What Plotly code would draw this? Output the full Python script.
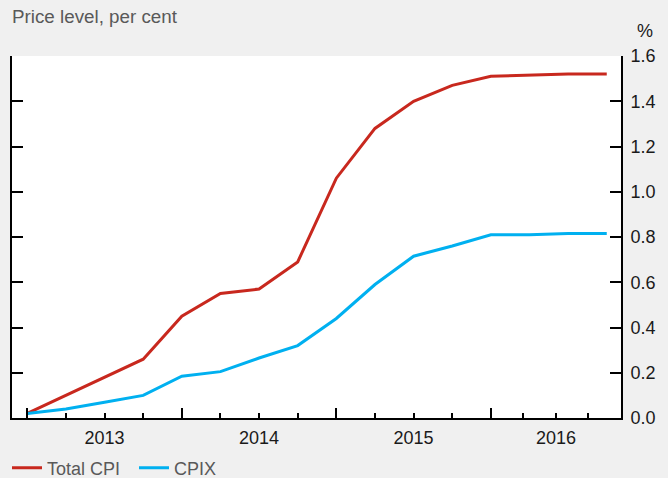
import plotly.graph_objects as go

# Quarterly observations, 2013 Q1 .. 2016 Q4 (index 0..15)
quarter_index = list(range(16))
total_cpi = [0.02, 0.10, 0.18, 0.26, 0.45, 0.55, 0.57, 0.69,
             1.06, 1.28, 1.40, 1.47, 1.51, 1.515, 1.52, 1.52]
cpix = [0.02, 0.04, 0.07, 0.10, 0.185, 0.205, 0.265, 0.32,
        0.44, 0.59, 0.715, 0.76, 0.81, 0.81, 0.815, 0.815]

year_labels = ["2013", "2014", "2015", "2016"]
year_label_pos = [2, 6, 10, 13.685]
year_ticks = [0, 4, 8, 12]
quarter_ticks = [1, 2, 3, 5, 6, 7, 9, 10, 11, 12.842, 13.685, 14.527]
y_ticks = [0.0, 0.2, 0.4, 0.6, 0.8, 1.0, 1.2, 1.4, 1.6]

x_range = [-0.396, 15.369]
y_range = [0, 1.6]

RED = "#c8281e"
BLUE = "#00b0f0"
FONT = "Liberation Sans, Arial, sans-serif"
FS = 18

fig = go.Figure()
fig.add_trace(go.Scatter(x=quarter_index, y=total_cpi, mode="lines", name="Total CPI",
                         line=dict(color=RED, width=3)))
fig.add_trace(go.Scatter(x=quarter_index, y=cpix, mode="lines", name="CPIX",
                         line=dict(color=BLUE, width=3)))
# helper trace so the overlay axes are drawn
fig.add_trace(go.Scatter(x=[None], y=[None], xaxis="x2", yaxis="y2",
                         showlegend=False, hoverinfo="skip"))

axis_common = dict(showgrid=False, zeroline=False, showline=True,
                   linecolor="black", linewidth=2, ticks="inside",
                   tickcolor="black", tickwidth=2, automargin=False)

fig.update_layout(
    width=668, height=478,
    paper_bgcolor="#f0f0f0", plot_bgcolor="white",
    margin=dict(l=12, r=47, t=56, b=60, pad=0, autoexpand=False),
    font=dict(family=FONT, size=FS, color="#1a1a1a"),
    xaxis=dict(range=x_range, tickvals=year_ticks, ticklen=10,
               showticklabels=False,
               minor=dict(tickvals=quarter_ticks, ticks="inside", ticklen=5,
                          tickwidth=1.5, tickcolor="black", showgrid=False),
               **axis_common),
    xaxis2=dict(range=x_range, overlaying="x", side="bottom", anchor="y",
                tickvals=year_label_pos, ticktext=year_labels, ticks="",
                showline=False, showgrid=False, zeroline=False, automargin=False,
                ticklabelstandoff=7,
                tickfont=dict(size=FS, color="#1a1a1a")),
    yaxis=dict(range=y_range, tickvals=y_ticks, ticklen=11,
               showticklabels=False, **axis_common),
    yaxis2=dict(range=y_range, overlaying="y", side="right", anchor="x",
                tickvals=y_ticks, tickformat=".1f", ticklen=11,
                ticklabelstandoff=4,
                tickfont=dict(size=FS, color="#1a1a1a"), **axis_common),
    legend=dict(orientation="h", xref="container", yref="container",
                x=7 / 668, xanchor="left", y=1 - 468 / 478,
                yanchor="middle", font=dict(size=FS, color="#595959"),
                bgcolor="rgba(0,0,0,0)", itemwidth=30,
                entrywidth=82, entrywidthmode="pixels"),
    showlegend=True,
    annotations=[
        dict(text="Price level, per cent", xref="paper", yref="paper",
             x=-2 / 609, y=1.109, xanchor="left", yanchor="middle",
             showarrow=False, font=dict(size=18.8, color="#595959")),
        dict(text="%", xref="paper", yref="paper",
             x=1.039, y=1.070, xanchor="center", yanchor="middle",
             showarrow=False, font=dict(size=FS, color="#1a1a1a")),
    ],
)

fig.write_html("out.html",
               config={"displayModeBar": False},
               post_script="document.body.style.margin='0';document.body.style.overflow='hidden';")
